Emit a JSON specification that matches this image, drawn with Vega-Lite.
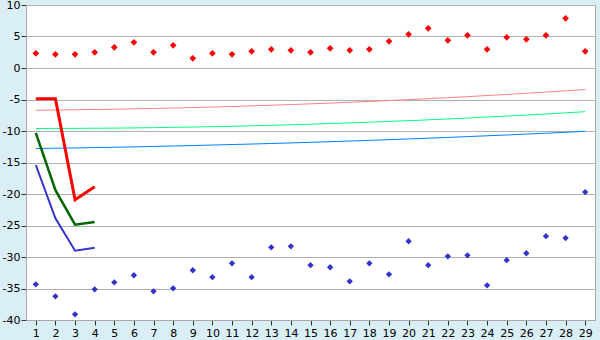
{
  "$schema": "https://vega.github.io/schema/vega-lite/v6.json",
  "autosize": {"type": "none"},
  "padding": {"left": 26, "top": 5, "right": 5, "bottom": 20},
  "width": 569,
  "height": 315,
  "background": "#DAEEF5",
  "config": {
    "view": {"fill": "#FFFFFF", "stroke": "#A8A8A8", "strokeWidth": 1},
    "axis": {"labelFont": "DejaVu Sans", "labelFontSize": 11, "labelColor": "#000000", "domainColor": "#A8A8A8", "tickColor": "#333333", "tickSize": 5, "title": null}
  },
  "datasets": {
    "redPt": [
      {"x": 1, "v": 2.33}, {"x": 2, "v": 2.17}, {"x": 3, "v": 2.17}, {"x": 4, "v": 2.49}, {"x": 5, "v": 3.28},
      {"x": 6, "v": 4.08}, {"x": 7, "v": 2.49}, {"x": 8, "v": 3.6}, {"x": 9, "v": 1.54}, {"x": 10, "v": 2.33},
      {"x": 11, "v": 2.17}, {"x": 12, "v": 2.65}, {"x": 13, "v": 2.97}, {"x": 14, "v": 2.81}, {"x": 15, "v": 2.49},
      {"x": 16, "v": 3.12}, {"x": 17, "v": 2.81}, {"x": 18, "v": 2.97}, {"x": 19, "v": 4.23}, {"x": 20, "v": 5.35},
      {"x": 21, "v": 6.3}, {"x": 22, "v": 4.4}, {"x": 23, "v": 5.19}, {"x": 24, "v": 2.97}, {"x": 25, "v": 4.87},
      {"x": 26, "v": 4.56}, {"x": 27, "v": 5.19}, {"x": 28, "v": 7.89}, {"x": 29, "v": 2.65}
    ],
    "bluePt": [
      {"x": 1, "v": -34.34}, {"x": 2, "v": -36.24}, {"x": 3, "v": -39.1}, {"x": 4, "v": -35.13}, {"x": 5, "v": -34.02},
      {"x": 6, "v": -32.9}, {"x": 7, "v": -35.45}, {"x": 8, "v": -34.97}, {"x": 9, "v": -32.1}, {"x": 10, "v": -33.2},
      {"x": 11, "v": -31.0}, {"x": 12, "v": -33.2}, {"x": 13, "v": -28.46}, {"x": 14, "v": -28.3}, {"x": 15, "v": -31.3},
      {"x": 16, "v": -31.63}, {"x": 17, "v": -33.86}, {"x": 18, "v": -31.0}, {"x": 19, "v": -32.75}, {"x": 20, "v": -27.5},
      {"x": 21, "v": -31.3}, {"x": 22, "v": -29.9}, {"x": 23, "v": -29.73}, {"x": 24, "v": -34.5}, {"x": 25, "v": -30.5},
      {"x": 26, "v": -29.4}, {"x": 27, "v": -26.7}, {"x": 28, "v": -27.0}, {"x": 29, "v": -19.7}
    ],
    "trendRed": [
      {"x": 1, "v": -6.70}, {"x": 2, "v": -6.67}, {"x": 3, "v": -6.63}, {"x": 4, "v": -6.59}, {"x": 5, "v": -6.54},
      {"x": 6, "v": -6.48}, {"x": 7, "v": -6.42}, {"x": 8, "v": -6.35}, {"x": 9, "v": -6.28}, {"x": 10, "v": -6.20},
      {"x": 11, "v": -6.11}, {"x": 12, "v": -6.01}, {"x": 13, "v": -5.91}, {"x": 14, "v": -5.80}, {"x": 15, "v": -5.69},
      {"x": 16, "v": -5.57}, {"x": 17, "v": -5.44}, {"x": 18, "v": -5.31}, {"x": 19, "v": -5.17}, {"x": 20, "v": -5.02},
      {"x": 21, "v": -4.87}, {"x": 22, "v": -4.71}, {"x": 23, "v": -4.55}, {"x": 24, "v": -4.37}, {"x": 25, "v": -4.20},
      {"x": 26, "v": -4.01}, {"x": 27, "v": -3.82}, {"x": 28, "v": -3.62}, {"x": 29, "v": -3.42}
    ],
    "trendGreen": [
      {"x": 1, "v": -9.60}, {"x": 2, "v": -9.59}, {"x": 3, "v": -9.58}, {"x": 4, "v": -9.56}, {"x": 5, "v": -9.54},
      {"x": 6, "v": -9.51}, {"x": 7, "v": -9.47}, {"x": 8, "v": -9.42}, {"x": 9, "v": -9.37}, {"x": 10, "v": -9.31},
      {"x": 11, "v": -9.25}, {"x": 12, "v": -9.17}, {"x": 13, "v": -9.10}, {"x": 14, "v": -9.01}, {"x": 15, "v": -8.92},
      {"x": 16, "v": -8.82}, {"x": 17, "v": -8.71}, {"x": 18, "v": -8.60}, {"x": 19, "v": -8.48}, {"x": 20, "v": -8.36},
      {"x": 21, "v": -8.23}, {"x": 22, "v": -8.09}, {"x": 23, "v": -7.94}, {"x": 24, "v": -7.79}, {"x": 25, "v": -7.63},
      {"x": 26, "v": -7.47}, {"x": 27, "v": -7.30}, {"x": 28, "v": -7.12}, {"x": 29, "v": -6.93}
    ],
    "trendBlue": [
      {"x": 1, "v": -12.78}, {"x": 2, "v": -12.73}, {"x": 3, "v": -12.69}, {"x": 4, "v": -12.63}, {"x": 5, "v": -12.58},
      {"x": 6, "v": -12.52}, {"x": 7, "v": -12.45}, {"x": 8, "v": -12.38}, {"x": 9, "v": -12.31}, {"x": 10, "v": -12.23},
      {"x": 11, "v": -12.15}, {"x": 12, "v": -12.07}, {"x": 13, "v": -11.98}, {"x": 14, "v": -11.89}, {"x": 15, "v": -11.80},
      {"x": 16, "v": -11.70}, {"x": 17, "v": -11.59}, {"x": 18, "v": -11.49}, {"x": 19, "v": -11.37}, {"x": 20, "v": -11.26},
      {"x": 21, "v": -11.14}, {"x": 22, "v": -11.02}, {"x": 23, "v": -10.89}, {"x": 24, "v": -10.76}, {"x": 25, "v": -10.63},
      {"x": 26, "v": -10.49}, {"x": 27, "v": -10.35}, {"x": 28, "v": -10.20}, {"x": 29, "v": -10.05}
    ],
    "lineRed": [{"x": 1, "v": -4.87}, {"x": 2, "v": -4.87}, {"x": 3, "v": -20.9}, {"x": 4, "v": -18.85}],
    "lineGreen": [{"x": 1, "v": -10.3}, {"x": 2, "v": -19.4}, {"x": 3, "v": -24.87}, {"x": 4, "v": -24.44}],
    "lineBlue": [{"x": 1, "v": -15.4}, {"x": 2, "v": -23.86}, {"x": 3, "v": -29.0}, {"x": 4, "v": -28.52}]
  },
  "encoding": {
    "x": {
      "field": "x", "type": "quantitative",
      "scale": {"domain": [0.5, 29.5], "nice": false, "zero": false},
      "axis": {"values": [1,2,3,4,5,6,7,8,9,10,11,12,13,14,15,16,17,18,19,20,21,22,23,24,25,26,27,28,29], "format": "d", "grid": false, "labelPadding": 2, "labelFlush": false}
    },
    "y": {
      "field": "v", "type": "quantitative",
      "scale": {"domain": [-40, 10], "nice": false, "zero": false},
      "axis": {"values": [-40,-35,-30,-25,-20,-15,-10,-5,0,5,10], "labelExpr": "'' + datum.value", "grid": true, "gridColor": "#B0B0B0", "gridWidth": 1, "labelPadding": 1, "labelFlush": false}
    }
  },
  "layer": [
    {"data": {"name": "trendRed"}, "mark": {"type": "line", "color": "#FF8080", "strokeWidth": 1}},
    {"data": {"name": "trendGreen"}, "mark": {"type": "line", "color": "#00FF80", "strokeWidth": 1}},
    {"data": {"name": "trendBlue"}, "mark": {"type": "line", "color": "#0080FF", "strokeWidth": 1}},
    {"data": {"name": "lineRed"}, "mark": {"type": "line", "color": "#FF0000", "strokeWidth": 3}},
    {"data": {"name": "lineGreen"}, "mark": {"type": "line", "color": "#006600", "strokeWidth": 2.5}},
    {"data": {"name": "lineBlue"}, "mark": {"type": "line", "color": "#3333CC", "strokeWidth": 2}},
    {"data": {"name": "redPt"}, "mark": {"type": "point", "shape": "diamond", "filled": true, "size": 45, "color": "#FF0000", "opacity": 1}},
    {"data": {"name": "bluePt"}, "mark": {"type": "point", "shape": "diamond", "filled": true, "size": 40, "color": "#3333CC", "opacity": 1}}
  ]
}
